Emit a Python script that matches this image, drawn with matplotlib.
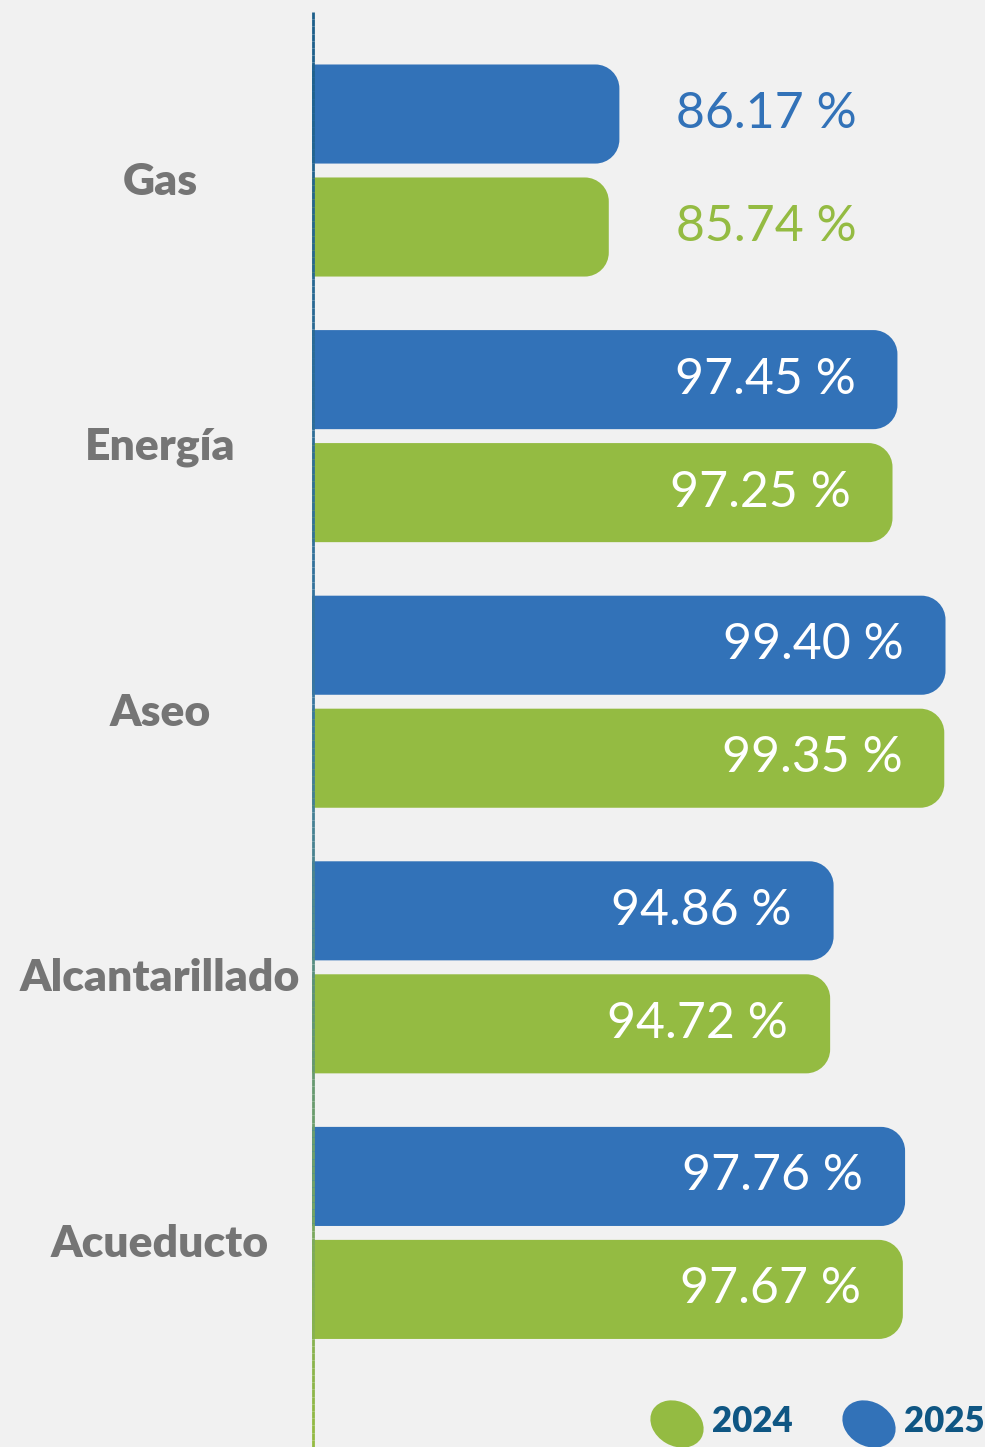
import numpy as np
import matplotlib
matplotlib.use("Agg")
import matplotlib.pyplot as plt
from matplotlib.path import Path
from matplotlib.patches import PathPatch, Ellipse
from matplotlib.collections import LineCollection
from matplotlib.colors import LinearSegmentedColormap
from matplotlib.transforms import IdentityTransform

# data (top to bottom)
categories = ['Gas', 'Energía', 'Aseo', 'Alcantarillado', 'Acueducto']
values_2025 = [86.17, 97.45, 99.40, 94.86, 97.76]
values_2024 = [85.74, 97.25, 99.35, 94.72, 97.67]
years = ['2024', '2025']

BLUE = '#3272b8'
GREEN = '#94bb42'
BG = '#f1f1f1'
LABEL_GREY = '#757575'
LEGEND_TEXT = '#0f5683'

W, H = 985, 1447
DPI = 100
fig = plt.figure(figsize=(W / DPI, H / DPI), dpi=DPI, facecolor=BG)
ax = fig.add_axes([312 / W, 0, 1 - 312 / W, 1])
ax.set_facecolor(BG)
for s in ax.spines.values():
    s.set_visible(False)
ax.set_xticks([])
ax.set_yticks([])

x0 = 73.7
ax.set_xlim(x0, x0 + (W - 312) / 24.65)
ax.set_ylim(4.806, -0.642)

y = np.arange(len(categories))
h = 0.373
off = 0.2127
bars25 = ax.barh(y - off, np.array(values_2025) - x0, left=x0, height=h, color='none')
bars24 = ax.barh(y + off, np.array(values_2024) - x0, left=x0, height=h, color='none')

fig.canvas.draw()
r = 24  # corner radius in px


def rounded_right(rect, color):
    (xa, ya), (xb, yb) = ax.transData.transform(
        [(rect.get_x(), rect.get_y()), (rect.get_x() + rect.get_width(), rect.get_y() + rect.get_height())])
    lo, hi = min(ya, yb), max(ya, yb)
    k = 0.5523 * r
    verts = [(xa, lo), (xb - r, lo),
             (xb - r + k, lo), (xb, lo + r - k), (xb, lo + r),
             (xb, hi - r),
             (xb, hi - r + k), (xb - r + k, hi), (xb - r, hi),
             (xa, hi), (xa, lo)]
    codes = [Path.MOVETO, Path.LINETO,
             Path.CURVE4, Path.CURVE4, Path.CURVE4,
             Path.LINETO,
             Path.CURVE4, Path.CURVE4, Path.CURVE4,
             Path.LINETO, Path.CLOSEPOLY]
    ax.add_patch(PathPatch(Path(verts, codes), facecolor=color, edgecolor='none',
                           transform=IdentityTransform(), zorder=2))


for b in bars25:
    rounded_right(b, BLUE)
for b in bars24:
    rounded_right(b, GREEN)

# value labels
vfont = dict(family='Lato', fontsize=36)
for i in range(len(categories)):
    for v, yy, col in ((values_2025[i], y[i] - off, BLUE), (values_2024[i], y[i] + off, GREEN)):
        txt = f'{v:.2f} %'
        if min(values_2025[i], values_2024[i]) < 90:
            ax.annotate(txt, xy=(max(values_2025[i], values_2024[i]), yy), xytext=(57, 0),
                        textcoords='offset pixels', ha='left', va='center', color=col,
                        zorder=5, **vfont)
        else:
            ax.annotate(txt, xy=(v, yy), xytext=(-42, 0), textcoords='offset pixels',
                        ha='right', va='center', color='white', zorder=5, **vfont)

# category labels
for i, c in enumerate(categories):
    ax.annotate(c, xy=(x0, y[i]), xytext=(-152, -11), textcoords='offset pixels',
                ha='center', va='center', color=LABEL_GREY, fontsize=32,
                fontweight='heavy', family='Lato', annotation_clip=False)

# vertical gradient axis line
ys = np.linspace(H - 12, 0, 200)
pts = np.column_stack([np.full_like(ys, 313), ys]).reshape(-1, 1, 2)
segs = np.concatenate([pts[:-1], pts[1:]], axis=1)
cmap = LinearSegmentedColormap.from_list('ax', ['#1d5f8a', '#3a78a0', GREEN])
lc = LineCollection(segs, colors=cmap(np.linspace(0, 1, len(segs))), linewidths=2,
                    transform=None, zorder=1)
fig.add_artist(lc)

# legend
for cx, col, lab in ((677, GREEN, years[0]), (869, BLUE, years[1])):
    fig.add_artist(Ellipse((cx, H - 1424), 56, 44, angle=-30, facecolor=col,
                           edgecolor='none', transform=None))
    fig.text((cx + 35) / W, (H - 1422) / H, lab, ha='left', va='center', color=LEGEND_TEXT,
             fontsize=25, fontweight='heavy', family='Lato')

fig.savefig('out.png', dpi=DPI, facecolor=BG)
